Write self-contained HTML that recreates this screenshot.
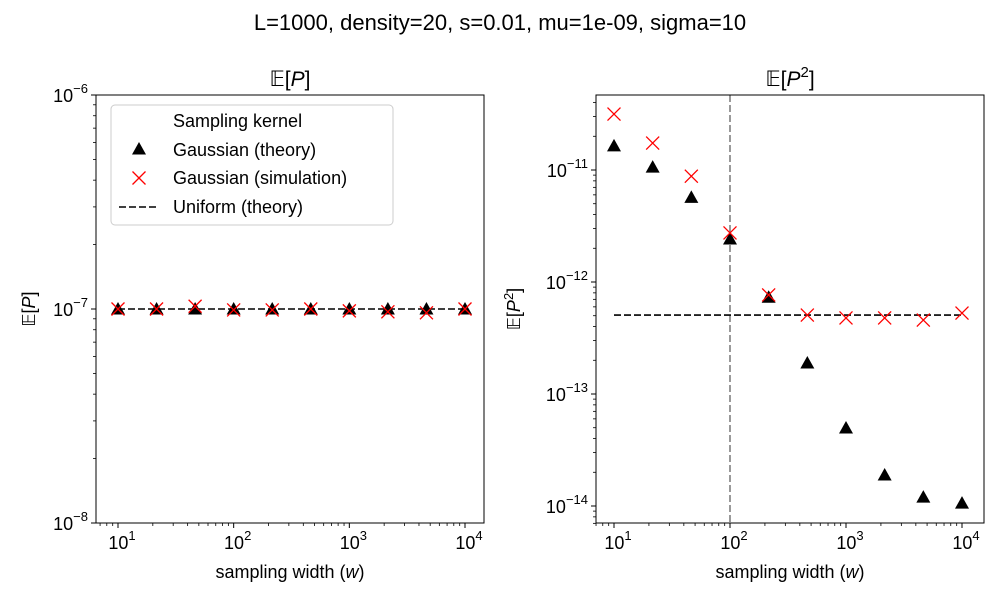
<!DOCTYPE html>
<html><head><meta charset="utf-8"><style>
body{margin:0;background:#fff}
svg text{font-family:"Liberation Sans","DejaVu Sans",sans-serif;fill:#000}
</style></head><body>
<svg id="fig" width="1000" height="600" xmlns="http://www.w3.org/2000/svg">
<rect width="1000" height="600" fill="#fff"/>
<text x="500" y="30" font-size="22" text-anchor="middle">L=1000, density=20, s=0.01, mu=1e-09, sigma=10</text>
</svg>
<script>
const widths=[10,21.544,46.416,100,215.44,464.16,1000,2154.4,4641.6,10000];
const leftTheory=[1e-7,1e-7,1e-7,1e-7,1e-7,1e-7,1e-7,1e-7,1e-7,1e-7];
const leftSim=[1.0e-7,1.0e-7,1.03e-7,0.99e-7,0.99e-7,1.0e-7,0.98e-7,0.97e-7,0.96e-7,1.0e-7];
const leftUniform=1e-7;
const rightTheory=[1.64e-11,1.06e-11,5.7e-12,2.42e-12,7.3e-13,1.89e-13,4.97e-14,1.89e-14,1.2e-14,1.06e-14];
const rightSim=[3.16e-11,1.74e-11,8.8e-12,2.74e-12,7.66e-13,5.07e-13,4.78e-13,4.78e-13,4.57e-13,5.28e-13];
const rightUniform=5.07e-13;
const vline=100;
const xTicks=[1,2,3,4];

const NS="http://www.w3.org/2000/svg";
const svg=document.getElementById('fig');
function mk(tag,attrs,parent){const e=document.createElementNS(NS,tag);for(const k in attrs)e.setAttribute(k,attrs[k]);(parent||svg).appendChild(e);return e;}
function sup(parent,x,y,exp,anchor){
  const t=mk('text',{x:x,y:y,'font-size':18,'text-anchor':anchor},parent);
  const a=document.createElementNS(NS,'tspan');a.textContent='10';t.appendChild(a);
  const b=document.createElementNS(NS,'tspan');b.setAttribute('dy','-9');b.setAttribute('font-size','13');b.textContent=exp;t.appendChild(b);
  return t;
}
const DASH='7,3';
function panel(o){
  const g=mk('g',{});
  
  
  const L=o.x0,R=o.x1,T=95,B=523;
  const xs=v=>o.xa+(Math.log10(v)-1)*(o.xb-o.xa)/3;
  const ys=v=>o.yBase+(o.yBaseExp-Math.log10(v))*o.dec;
  for(let e=-16;e<=-5;e++){
    for(let m=1;m<10;m++){
      const y=ys(m*Math.pow(10,e));
      if(y<T-0.5||y>B+0.5)continue;
      mk('line',{x1:L,x2:L-(m==1?5:3),y1:y,y2:y,stroke:'#000','stroke-width':m==1?1:0.8},g);
      if(m==1){const t=sup(g,L-8,y+7,'−'+(-e),'end');}
    }
  }
  for(let e=1;e<=4;e++){for(let m=1;m<10;m++){const v=m*Math.pow(10,e);const x=xs(v);if(x<L||x>R)continue;
    mk('line',{x1:x,x2:x,y1:B,y2:B+(m==1?5:3),stroke:'#000','stroke-width':m==1?1:0.8},g);}}
  for(let m=6;m<10;m++){const x=xs(m);if(x>L)mk('line',{x1:x,x2:x,y1:B,y2:B+3,stroke:'#000','stroke-width':0.8},g);}
  xTicks.forEach(e=>{const t=sup(g,xs(Math.pow(10,e))+4,B+26,String(e),'middle');});
  if(o.vline){const x=xs(o.vline);const l=mk('line',{x1:x,x2:x,y1:T,y2:B,stroke:'#808080','stroke-width':1.6,'stroke-dasharray':DASH},g);}
  const u=mk('line',{x1:xs(widths[0]),x2:xs(widths[9]),y1:ys(o.uni),y2:ys(o.uni),stroke:'#000','stroke-width':1.6,'stroke-dasharray':DASH},g);
  
  widths.forEach((w,i)=>{const x=xs(w),y=ys(o.th[i]);
    const p=mk('polygon',{points:`${x},${y-7} ${x-7},${y+5.5} ${x+7},${y+5.5}`,fill:'#000'},g);
    });
  widths.forEach((w,i)=>{const x=xs(w),y=ys(o.sim[i]);
    const p=mk('path',{d:`M${x-6.5},${y-6.5}L${x+6.5},${y+6.5}M${x-6.5},${y+6.5}L${x+6.5},${y-6.5}`,stroke:'#f00','stroke-width':1.3,fill:'none'},g);
    });
  mk('rect',{x:L,y:T,width:R-L,height:B-T,fill:'none',stroke:'#000','stroke-width':1},g);
  const tt=mk('text',{x:(L+R)/2,y:86,'font-size':21,'text-anchor':'middle'},g);tt.innerHTML=o.title;
  
  const xl=mk('text',{x:(L+R)/2,y:578,'font-size':18,'text-anchor':'middle'},g);xl.innerHTML='sampling width (<tspan font-style="italic">w</tspan>)';
  
  const yl=mk('text',{x:0,y:0,'font-size':18,'text-anchor':'middle',transform:`translate(${o.ylx},309) rotate(-90)`},g);yl.innerHTML=o.ylab;
  
  return g;
}
panel({name:'left-panel',x0:96,x1:484,xa:118,xb:465,yBase:309,yBaseExp:-7,dec:214,th:leftTheory,sim:leftSim,uni:leftUniform,title:'𝔼[<tspan font-style="italic">P</tspan>]',ylab:'𝔼[<tspan font-style="italic">P</tspan>]',ylx:35});
panel({name:'right-panel',x0:596,x1:984,xa:614,xb:962,yBase:170,yBaseExp:-11,dec:112,th:rightTheory,sim:rightSim,uni:rightUniform,vline:vline,title:'𝔼[<tspan font-style="italic">P</tspan><tspan dy="-9" font-size="15">2</tspan><tspan dy="9">]</tspan>',ylab:'𝔼[<tspan font-style="italic">P</tspan><tspan dy="-7" font-size="13">2</tspan><tspan dy="7">]</tspan>',ylx:520});
const lg=mk('g',{});


mk('rect',{x:111,y:105,width:282,height:120,rx:4,fill:'#fff','fill-opacity':0.8,stroke:'#ccc'},lg);
mk('text',{x:173,y:127,'font-size':18},lg).textContent='Sampling kernel';
mk('polygon',{points:'139,142 132,154.5 146,154.5',fill:'#000'},lg);
mk('text',{x:173,y:156,'font-size':18},lg).textContent='Gaussian (theory)';
mk('path',{d:'M132.5,171.5L145.5,184.5M132.5,184.5L145.5,171.5',stroke:'#f00','stroke-width':1.3},lg);
mk('text',{x:173,y:184,'font-size':18},lg).textContent='Gaussian (simulation)';
mk('line',{x1:119,x2:159,y1:207,y2:207,stroke:'#000','stroke-width':1.6,'stroke-dasharray':DASH},lg);
mk('text',{x:173,y:213,'font-size':18},lg).textContent='Uniform (theory)';
</script>
</body></html>
